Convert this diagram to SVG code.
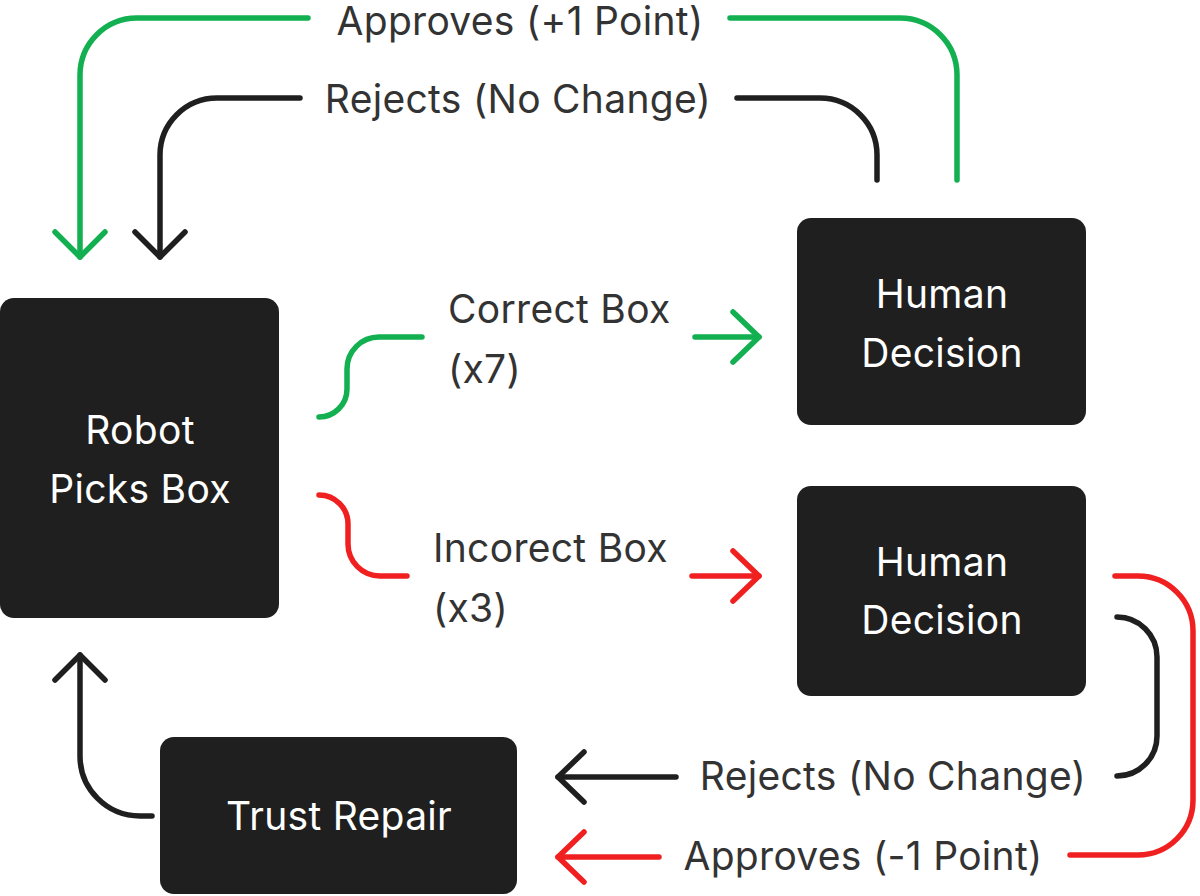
<svg xmlns="http://www.w3.org/2000/svg" width="1200" height="896" viewBox="0 0 1200 896">
<style>
.node rect{fill:#1f1f1f}
.node text{fill:#ffffff;font-family:Inter,"Liberation Sans",sans-serif;font-size:39px;letter-spacing:0.3px;text-anchor:middle}
.lbl{fill:#333333;font-family:Inter,"Liberation Sans",sans-serif;font-size:39px;letter-spacing:0.3px}
.c{fill:none;stroke-width:5.5;stroke-linecap:round;stroke-linejoin:round}
.g{stroke:#12b050}
.r{stroke:#f02020}
.k{stroke:#1f1f1f}
</style>
<rect width="1200" height="896" fill="#ffffff"/>
<g id="robot" class="node">
<rect x="0" y="298" width="279" height="320" rx="14"/>
<text x="140" y="444">Robot</text>
<text x="140" y="503">Picks Box</text>
</g>
<g id="human1" class="node">
<rect x="797" y="218" width="289" height="207" rx="14"/>
<text x="942" y="308">Human</text>
<text x="942" y="367">Decision</text>
</g>
<g id="human2" class="node">
<rect x="797" y="486" width="289" height="210" rx="14"/>
<text x="942" y="576">Human</text>
<text x="942" y="634">Decision</text>
</g>
<g id="trust" class="node">
<rect x="160" y="737" width="357" height="157" rx="14"/>
<text x="339" y="830">Trust Repair</text>
</g>
<g id="connectors">
<path class="c g" d="M957,180 V75 A57,57 0 0 0 900,18 H730"/>
<path class="c g" d="M308,18 H137 A57,57 0 0 0 80,75 V257"/>
<path class="c g" d="M55,232 L80,257 L105,232"/>
<path class="c k" d="M877,180 V155 A57,57 0 0 0 820,98 H737"/>
<path class="c k" d="M300,98 H217 A57,57 0 0 0 160,155 V257"/>
<path class="c k" d="M135,232 L160,257 L185,232"/>
<path class="c g" d="M319,417 A28,28 0 0 0 347,389 V369 A32,32 0 0 1 379,337 H422"/>
<path class="c g" d="M695,337 H759"/>
<path class="c g" d="M733,312 L759,337 L733,362"/>
<path class="c r" d="M319,495 A29,29 0 0 1 348,524 V544 A32,32 0 0 0 380,576 H407"/>
<path class="c r" d="M692,576 H759"/>
<path class="c r" d="M733,551 L759,576 L733,601"/>
<path class="c r" d="M1115,576 H1138 A55,55 0 0 1 1193,631 V800 A55,55 0 0 1 1138,855 H1070"/>
<path class="c r" d="M659,857 H558"/>
<path class="c r" d="M584,832 L558,857 L584,882"/>
<path class="c k" d="M1117,617 A40,40 0 0 1 1157,657 V736 A40,40 0 0 1 1117,776"/>
<path class="c k" d="M676,777 H558"/>
<path class="c k" d="M584,752 L558,777 L584,802"/>
<path class="c k" d="M152,816 H140 A60,60 0 0 1 80,756 V655"/>
<path class="c k" d="M55,680 L80,655 L105,680"/>
</g>
<g id="labels">
<text class="lbl" x="520" y="35" text-anchor="middle">Approves (+1 Point)</text>
<text class="lbl" x="518" y="113" text-anchor="middle">Rejects (No Change)</text>
<text class="lbl" x="448" y="323">Correct Box</text>
<text class="lbl" x="448" y="383">(x7)</text>
<text class="lbl" x="433" y="562">Incorect Box</text>
<text class="lbl" x="433" y="622">(x3)</text>
<text class="lbl" x="893" y="790" text-anchor="middle">Rejects (No Change)</text>
<text class="lbl" x="863" y="870" text-anchor="middle">Approves (-1 Point)</text>
</g>
</svg>
